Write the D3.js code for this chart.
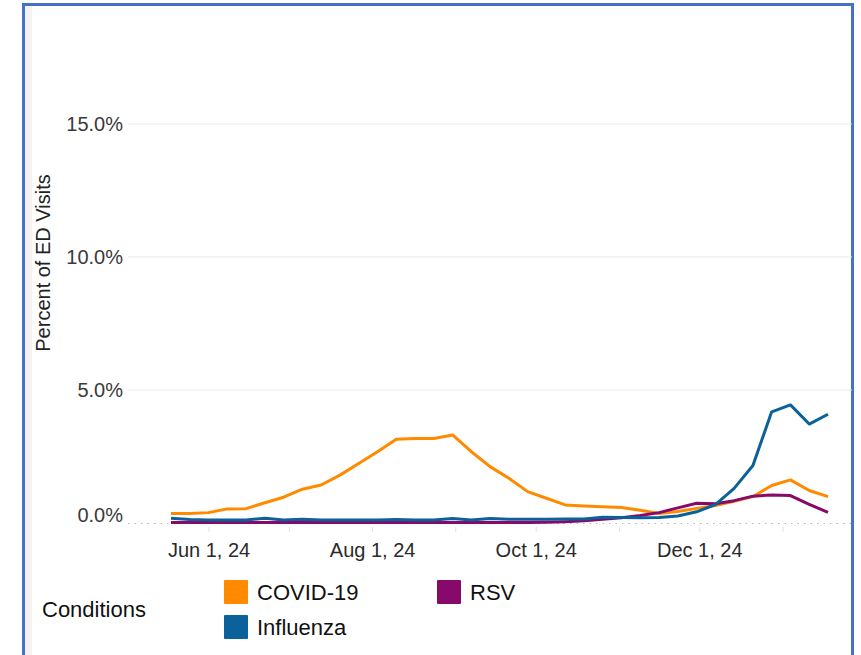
<!DOCTYPE html>
<html>
<head>
<meta charset="utf-8">
<script src="https://cdn.jsdelivr.net/npm/d3@7"></script>
<style>
  body { margin: 0; background: #fff; }
  svg { display: block; font-family: "Liberation Sans", Arial, sans-serif; }
</style>
</head>
<body>
<svg id="chart" width="861" height="655"></svg>
<script>
// weekly points (week ending)
const weeks = [
    '2024-05-18', '2024-05-25', '2024-06-01', '2024-06-08', '2024-06-15', '2024-06-22',
    '2024-06-29', '2024-07-06', '2024-07-13', '2024-07-20', '2024-07-27', '2024-08-03',
    '2024-08-10', '2024-08-17', '2024-08-24', '2024-08-31', '2024-09-07', '2024-09-14',
    '2024-09-21', '2024-09-28', '2024-10-05', '2024-10-12', '2024-10-19', '2024-10-26',
    '2024-11-02', '2024-11-09', '2024-11-16', '2024-11-23', '2024-11-30', '2024-12-07',
    '2024-12-14', '2024-12-21', '2024-12-28', '2025-01-04', '2025-01-11', '2025-01-18'
];

// percent of ED visits
const covid = [
    0.36, 0.36, 0.39, 0.53, 0.54, 0.76, 0.97, 1.27, 1.43, 1.80, 2.24, 2.68,
    3.15, 3.18, 3.18, 3.31, 2.68, 2.12, 1.68, 1.18, 0.93, 0.68, 0.64, 0.61,
    0.58, 0.48, 0.36, 0.43, 0.55, 0.66, 0.82, 0.99, 1.41, 1.62, 1.22, 0.99
];
const influenza = [
    0.18, 0.13, 0.11, 0.11, 0.11, 0.18, 0.11, 0.14, 0.11, 0.11, 0.11, 0.11,
    0.13, 0.11, 0.11, 0.17, 0.11, 0.17, 0.14, 0.14, 0.14, 0.15, 0.15, 0.22,
    0.21, 0.20, 0.21, 0.26, 0.42, 0.69, 1.30, 2.16, 4.18, 4.44, 3.72, 4.09
];
const rsv = [
    0.02, 0.02, 0.02, 0.02, 0.02, 0.02, 0.02, 0.02, 0.02, 0.02, 0.02, 0.02,
    0.02, 0.02, 0.02, 0.02, 0.02, 0.02, 0.02, 0.02, 0.03, 0.05, 0.08, 0.14,
    0.20, 0.28, 0.39, 0.57, 0.74, 0.72, 0.84, 1.01, 1.05, 1.03, 0.70, 0.40
];

const seriesNames = ['COVID-19', 'Influenza', 'RSV'];
const seriesColors = ['#ff8a00', '#0b6199', '#870a6b'];
const yTicks = [0, 5, 10, 15];
const labelMonths = ['2024-06-01', '2024-08-01', '2024-10-01', '2024-12-01'];

const svg = d3.select('#chart');
const parse = d3.timeParse('%Y-%m-%d');
const dates = weeks.map(parse);

// outer frame
svg.append('rect')
    .attr('x', 23.5).attr('y', 4.5)
    .attr('width', 829).attr('height', 700)
    .attr('fill', '#fff')
    .attr('stroke', '#4472c4')
    .attr('stroke-width', 3);
svg.append('rect')
    .attr('x', 25).attr('y', 6)
    .attr('width', 7).attr('height', 660)
    .attr('fill', '#f3f3f3');

const left = 128, right = 852;

const x = d3.scaleTime()
    .domain([dates[0], dates[dates.length - 1]])
    .range([171, 828]);
const y = d3.scaleLinear()
    .domain([0, 15])
    .range([523, 124]);

// gridlines
svg.selectAll('.grid')
    .data(yTicks.filter(d => d > 0))
    .enter().append('line')
    .attr('class', 'grid')
    .attr('x1', left).attr('x2', right)
    .attr('y1', d => y(d)).attr('y2', d => y(d))
    .attr('stroke', '#e9e9e9')
    .attr('stroke-width', 1);

svg.append('line')
    .attr('x1', left).attr('x2', right)
    .attr('y1', y(0) + 0.5).attr('y2', y(0) + 0.5)
    .attr('stroke', '#b5b5b5')
    .attr('stroke-dasharray', '1.5,5');

// y axis labels
const yAxis = svg.append('g')
    .attr('transform', `translate(${left - 5},0)`)
    .call(d3.axisLeft(y).tickValues(yTicks).tickSize(0).tickPadding(0)
        .tickFormat(d => d.toFixed(1) + '%'));
yAxis.select('.domain').remove();
yAxis.selectAll('text')
    .attr('font-size', 20)
    .attr('font-family', '"Liberation Sans", Arial, sans-serif')
    .attr('fill', '#3a3a3a')
    .attr('dy', d => d === 0 ? '-0.1em' : '0.32em');

svg.append('text')
    .attr('transform', `translate(50,${y(10) + 6}) rotate(-90)`)
    .attr('text-anchor', 'middle')
    .attr('font-size', 20)
    .attr('fill', '#222')
    .text('Percent of ED Visits');

// x axis: monthly ticks, labels every other month
const labelSet = new Set(labelMonths);
const xAxis = svg.append('g')
    .attr('transform', `translate(0,${y(0) + 4})`)
    .call(d3.axisBottom(x)
        .tickValues(d3.timeMonth.range(parse('2024-06-01'), parse('2025-01-02')))
        .tickSize(5).tickPadding(11)
        .tickFormat(d => labelSet.has(d3.timeFormat('%Y-%m-%d')(d)) ? d3.timeFormat('%b %-d, %y')(d) : ''));
xAxis.select('.domain').remove();
xAxis.selectAll('line').attr('stroke', '#e2e2e2');
xAxis.selectAll('text')
    .attr('font-size', 20)
    .attr('font-family', '"Liberation Sans", Arial, sans-serif')
    .attr('fill', '#2a2a2a');

// lines
const seriesValues = [covid, influenza, rsv];
const line = d3.line()
    .x((d, i) => x(dates[i]))
    .y(d => y(d));

[0, 2, 1].forEach(k => {
    svg.append('path')
        .datum(seriesValues[k])
        .attr('fill', 'none')
        .attr('stroke', seriesColors[k])
        .attr('stroke-width', 3)
        .attr('stroke-linejoin', 'round')
        .attr('d', line);
});

// legend
svg.append('text')
    .attr('x', 42).attr('y', 617)
    .attr('font-size', 22)
    .attr('fill', '#111')
    .text('Conditions');

const legend = svg.selectAll('.legend')
    .data(seriesNames)
    .enter().append('g')
    .attr('class', 'legend')
    .attr('transform', (d, i) => `translate(${224 + Math.floor(i / 2) * 213},${580 + (i % 2) * 35})`);
legend.append('rect')
    .attr('width', 24).attr('height', 24)
    .attr('rx', 1)
    .attr('fill', (d, i) => seriesColors[i]);
legend.append('text')
    .attr('x', 33).attr('y', 20)
    .attr('font-size', 22)
    .attr('fill', '#111')
    .text(d => d);
</script>
</body>
</html>
